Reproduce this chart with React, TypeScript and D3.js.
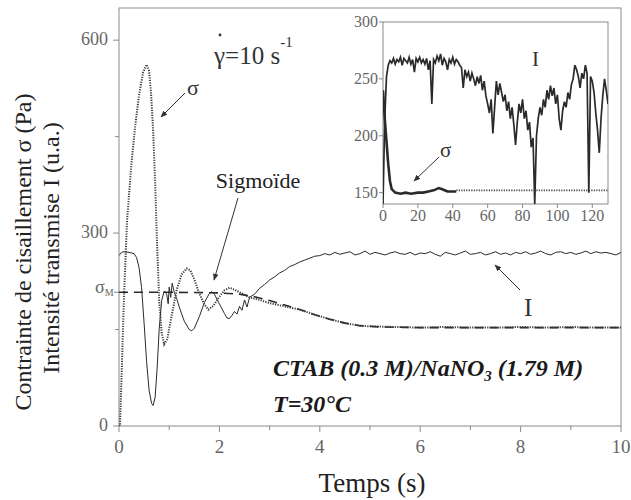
import React from "react";
import * as d3 from "d3";

// ---------- data ----------
// main chart: shear stress sigma (Pa), dotted
const sigmaMain: [number, number][] = [
  [0.0, 0], [0.02, 0], [0.06, 100], [0.1, 200], [0.16, 320], [0.25, 410], [0.32, 465], [0.4, 515],
  [0.48, 550], [0.55, 562], [0.6, 552], [0.64, 515], [0.68, 460], [0.72, 380], [0.76, 280],
  [0.8, 195], [0.85, 145], [0.9, 127], [0.96, 135], [1.05, 172], [1.15, 212], [1.25, 236],
  [1.35, 245], [1.42, 242], [1.5, 228], [1.6, 206], [1.7, 189], [1.78, 181], [1.88, 187],
  [2.0, 201], [2.1, 211], [2.2, 215], [2.3, 212], [2.4, 208], [2.5, 204], [2.6, 200],
  [2.8, 196], [3.0, 191], [3.3, 186], [3.6, 181], [3.9, 173], [4.2, 166], [4.5, 160],
  [4.8, 156], [5.0, 155], [5.5, 154], [6.0, 153], [6.5, 154], [7.0, 153], [7.5, 153],
  [8.0, 154], [8.5, 153], [9.0, 154], [9.5, 153], [10.0, 153],
];

// sigmoid fit (dashed)
const sigmoidFit: [number, number][] = [
  [0, 208], [1, 208], [2, 207], [2.4, 205], [2.7, 201], [3.0, 195], [3.3, 188], [3.6, 181],
  [3.9, 173], [4.2, 166], [4.5, 160], [4.8, 156], [5.2, 154], [6, 153], [10, 153],
];

// transmitted intensity I (solid) - transient part
const intensityTransient: [number, number][] = [
  [0, 265], [0.05, 270], [0.1, 271], [0.2, 270], [0.3, 268], [0.35, 262], [0.4, 246],
  [0.45, 215], [0.5, 160], [0.55, 100], [0.6, 55], [0.65, 35], [0.68, 32], [0.72, 45],
  [0.76, 90], [0.8, 150], [0.85, 195], [0.9, 210], [0.95, 205], [0.98, 190], [1.0, 216],
  [1.03, 200], [1.06, 222], [1.1, 208], [1.15, 198], [1.2, 185], [1.3, 163], [1.4, 150],
  [1.45, 148], [1.5, 152], [1.6, 170], [1.7, 192], [1.8, 206], [1.85, 209], [1.9, 205],
  [2.0, 190], [2.1, 175], [2.15, 168], [2.2, 167], [2.25, 172], [2.3, 178], [2.35, 174],
  [2.4, 186], [2.45, 180], [2.5, 196], [2.55, 185], [2.6, 200], [2.7, 205], [2.8, 214],
  [2.9, 220], [3.0, 227], [3.1, 232], [3.2, 238], [3.3, 242], [3.4, 248], [3.5, 251],
  [3.6, 255], [3.7, 258], [3.8, 261], [3.9, 264],
];
// plateau of I, sampled every 0.1 s from t = 4.0 s
const plateauStart = 4.0;
const plateauStep = 0.1;
const intensityPlateau: number[] = [
  265, 268, 266, 270, 267, 269, 271, 266, 268, 272, 267, 270, 268, 266, 269, 271, 268, 267,
  270, 266, 269, 268, 271, 267, 264, 270, 268, 266, 269, 272, 267, 268, 270, 266, 268, 271,
  267, 269, 266, 270, 268, 271, 267, 269, 272, 268, 266, 270, 271, 268, 270, 267, 269, 272,
  268, 271, 269, 270, 268, 266, 270,
];

// inset: I sampled every 1 s from 0 to 129 s
const insetIntensity: number[] = [
  140, 215, 252, 262, 266, 264, 268, 263, 267, 265,
  269, 262, 268, 266, 264, 269, 263, 267, 256, 268,
  265, 269, 264, 267, 263, 268, 258, 266, 228, 267,
  264, 270, 266, 272, 262, 268, 265, 258, 267, 264,
  269, 263, 267, 265, 262, 260, 242, 258, 252, 256,
  248, 255, 250, 244, 252, 246, 253, 240, 248, 235,
  228, 220, 232, 202, 225, 248, 236, 246, 238, 230,
  236, 222, 230, 215, 225, 210, 192, 212, 228, 220,
  232, 215, 222, 205, 212, 190, 198, 140, 200, 215,
  225, 218, 232, 225, 240, 232, 244, 235, 242, 228,
  236, 215, 205, 222, 230, 225, 238, 232, 245, 250,
  262, 258, 252, 242, 255, 250, 262, 255, 150, 252,
  248, 238, 220, 205, 185, 215, 235, 250, 240, 228,
];
// inset: sigma, measured part (thick) and continuation (dotted)
const insetSigmaMeasured: [number, number][] = [
  [0, 240], [1, 215], [2, 195], [3, 175], [4, 160], [5, 153], [7, 150], [10, 149], [13, 150],
  [16, 149], [20, 150], [23, 150], [26, 151], [29, 152], [32, 154], [34, 153], [37, 151],
  [40, 151], [42, 151],
];
const insetSigmaDotted: [number, number][] = [[42, 152], [129, 152]];

// ticks
const xTicksMain = [0, 2, 4, 6, 8, 10];
const xMinorMain = [1, 3, 5, 7, 9];
const yTicksMain = [0, 300, 600];
const yMinorMain = [150, 450];
const sigmaM = 208;
const xTicksInset = [0, 20, 40, 60, 80, 100, 120];
const yTicksInset = [150, 200, 250, 300];

// ---------- component ----------
export default function App() {
  const x = d3.scaleLinear().domain([0, 10]).range([119, 621]);
  const y = d3.scaleLinear().domain([0, 650]).range([426, 8]);
  const xi = d3.scaleLinear().domain([0, 129]).range([383, 608]);
  const yi = d3.scaleLinear().domain([140, 300]).range([204, 22]);

  const line = d3.line<[number, number]>().x((d) => x(d[0])).y((d) => y(d[1]));
  const lineI = d3.line<[number, number]>().x((d) => xi(d[0])).y((d) => yi(d[1]));

  const intensityMain: [number, number][] = [
    ...intensityTransient,
    ...intensityPlateau.map((v, i) => [plateauStart + i * plateauStep, v] as [number, number]),
  ];
  const insetI: [number, number][] = insetIntensity.map((v, i) => [i, v]);

  const serif = '"Liberation Serif", "DejaVu Serif", serif';
  const axisCol = "#8a8a8a";
  const tickCol = "#666";
  const ink = "#2a2a2a";

  return (
    <svg width={631} height={500} style={{ position: "absolute", left: 0, top: 0, background: "#fff", fontFamily: serif }}>
      <defs>
        <marker id="arr" viewBox="0 0 10 10" refX="9" refY="5" markerWidth="7" markerHeight="7" orient="auto-start-reverse">
          <path d="M0,1 L10,5 L0,9 Z" fill="#333" />
        </marker>
        <clipPath id="mainClip">
          <rect x={119} y={8} width={502} height={418} />
        </clipPath>
        <clipPath id="insetClip">
          <rect x={383} y={22} width={225} height={182} />
        </clipPath>
      </defs>

      {/* main frame */}
      <rect x={119} y={8} width={502} height={418} fill="none" stroke={axisCol} strokeWidth={1} />

      {/* x ticks */}
      {xTicksMain.map((t) => (
        <g key={"xt" + t}>
          <line x1={x(t)} x2={x(t)} y1={426} y2={432} stroke={axisCol} />
          <text x={x(t)} y={453} textAnchor="middle" fontSize={19} fill={tickCol} style={{ fontFamily: serif }}>{t}</text>
        </g>
      ))}
      {xMinorMain.map((t) => (
        <line key={"xm" + t} x1={x(t)} x2={x(t)} y1={426} y2={430} stroke={axisCol} />
      ))}
      {/* y ticks */}
      {yTicksMain.map((v) => (
        <g key={"yt" + v}>
          <line x1={113} x2={119} y1={y(v)} y2={y(v)} stroke={axisCol} />
          <text x={108} y={y(v) + 5} textAnchor="end" fontSize={18} fill={tickCol} style={{ fontFamily: serif }}>{v}</text>
        </g>
      ))}
      {yMinorMain.map((v) => (
        <line key={"ym" + v} x1={115} x2={119} y1={y(v)} y2={y(v)} stroke={axisCol} />
      ))}
      <line x1={114} x2={119} y1={y(sigmaM)} y2={y(sigmaM)} stroke={axisCol} />
      <text x={95} y={y(sigmaM) + 1} fontSize={18} fill={tickCol} style={{ fontFamily: serif }}>
        σ<tspan fontSize={10} dy={3}>M</tspan>
      </text>

      {/* main curves */}
      <g clipPath="url(#mainClip)" fill="none">
        <path d={line(sigmoidFit) || ""} stroke={ink} strokeWidth={1.6} strokeDasharray="9,6" />
        <path d={line(intensityMain) || ""} stroke={ink} strokeWidth={1} />
        <path d={line(sigmaMain) || ""} stroke="#3a3a3a" strokeWidth={2} strokeDasharray="1.2,1.3" />
      </g>

      {/* axis titles */}
      <text transform="translate(31,252) rotate(-90)" textAnchor="middle" fontSize={24} fill="#222" style={{ fontFamily: serif }}>
        Contrainte de cisaillement σ (Pa)
      </text>
      <text transform="translate(59,248) rotate(-90)" textAnchor="middle" fontSize={24} fill="#222" style={{ fontFamily: serif }}>
        Intensité transmise I (u.a.)
      </text>
      <text x={372} y={492} textAnchor="middle" fontSize={27} fill="#222" style={{ fontFamily: serif }}>Temps (s)</text>

      {/* annotations */}
      <text x={214} y={64} fontSize={25} fill="#333" style={{ fontFamily: serif }}>
        γ=10 s<tspan fontSize={15} dy={-17}>-1</tspan>
      </text>
      <circle cx={220} cy={35} r={1.4} fill="#333" />

      <text x={187} y={95} fontSize={22} fill="#333" style={{ fontFamily: serif }}>σ</text>
      <line x1={185} y1={93} x2={161} y2={117} stroke="#333" strokeWidth={1} markerEnd="url(#arr)" />

      <text x={258} y={188} textAnchor="middle" fontSize={22} fill="#222" style={{ fontFamily: serif }}>Sigmoïde</text>
      <line x1={238} y1={198} x2={214} y2={280} stroke="#333" strokeWidth={1} markerEnd="url(#arr)" />

      <text x={524} y={316} fontSize={25} fill="#333" style={{ fontFamily: serif }}>I</text>
      <line x1={520} y1={290} x2={495} y2={265} stroke="#333" strokeWidth={1} markerEnd="url(#arr)" />

      <text x={273} y={376} fontSize={24} fontWeight="bold" fontStyle="italic" fill="#1a1a1a" style={{ fontFamily: serif }}>
        CTAB (0.3 M)/NaNO<tspan fontSize={15} dy={5}>3</tspan><tspan dy={-5}> (1.79 M)</tspan>
      </text>
      <text x={273} y={412} fontSize={24} fontWeight="bold" fontStyle="italic" fill="#1a1a1a" style={{ fontFamily: serif }}>T=30°C</text>

      {/* inset */}
      <rect x={383} y={22} width={225} height={182} fill="#fff" stroke={axisCol} strokeWidth={1} />
      {xTicksInset.map((t) => (
        <g key={"ixt" + t}>
          <line x1={xi(t)} x2={xi(t)} y1={204} y2={208} stroke={axisCol} />
          <text x={xi(t)} y={221} textAnchor="middle" fontSize={16} fill={tickCol} style={{ fontFamily: serif }}>{t}</text>
        </g>
      ))}
      {yTicksInset.map((v) => (
        <g key={"iyt" + v}>
          <line x1={379} x2={383} y1={yi(v)} y2={yi(v)} stroke={axisCol} />
          <text x={378} y={yi(v) + 5} textAnchor="end" fontSize={16} fill={tickCol} style={{ fontFamily: serif }}>{v}</text>
        </g>
      ))}
      <g clipPath="url(#insetClip)" fill="none">
        <path d={lineI(insetI) || ""} stroke={ink} strokeWidth={1.7} />
        <path d={lineI(insetSigmaMeasured) || ""} stroke={ink} strokeWidth={2.6} />
        <path d={lineI(insetSigmaDotted) || ""} stroke="#444" strokeWidth={1.8} strokeDasharray="1.2,1.3" />
      </g>
      <text x={532} y={66} fontSize={21} fill="#333" style={{ fontFamily: serif }}>I</text>
      <text x={440} y={157} fontSize={21} fill="#333" style={{ fontFamily: serif }}>σ</text>
      <line x1={439} y1={157} x2={414} y2={181} stroke="#333" strokeWidth={1} markerEnd="url(#arr)" />
    </svg>
  );
}
